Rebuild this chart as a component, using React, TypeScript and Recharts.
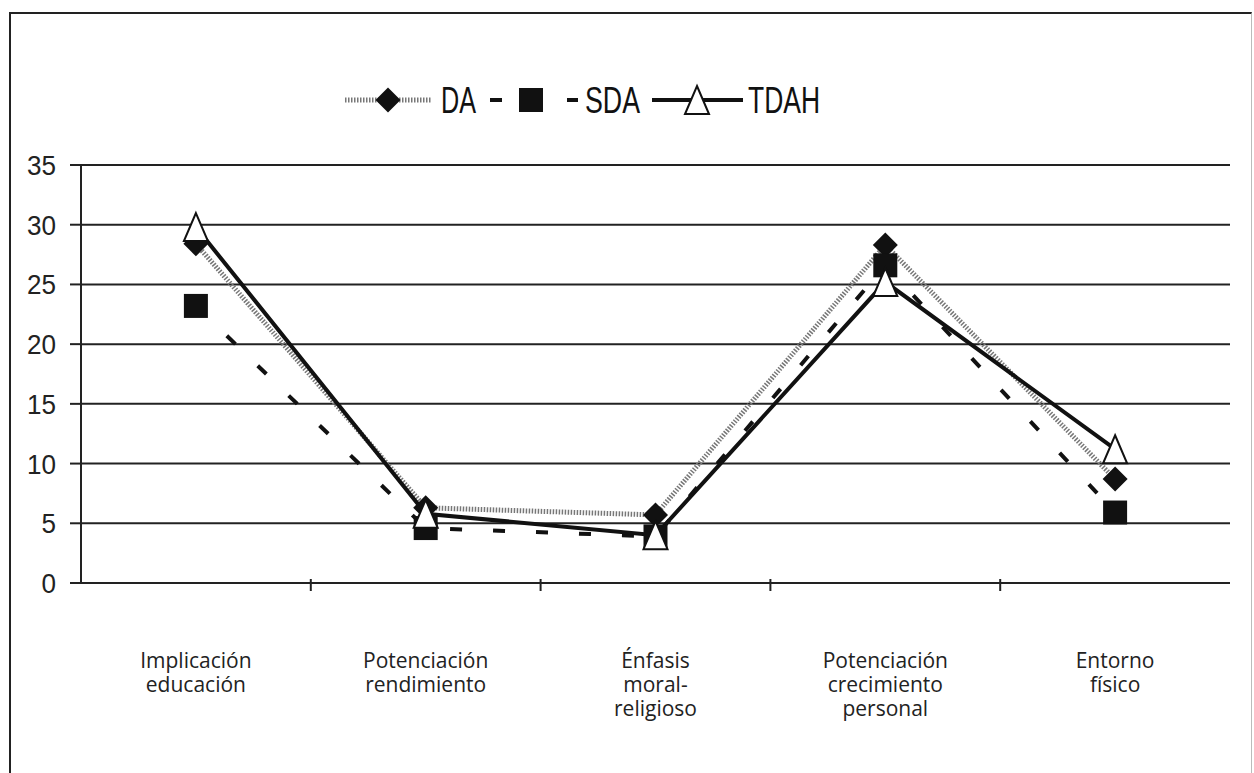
import React from "react";
import {
  CartesianGrid,
  Line,
  LineChart,
  XAxis,
  YAxis,
} from "recharts";

const categories = [
  "Implicación\neducación",
  "Potenciación\nrendimiento",
  "Énfasis\nmoral-\nreligioso",
  "Potenciación\ncrecimiento\npersonal",
  "Entorno\nfísico",
];
const da = [28.4, 6.3, 5.7, 28.3, 8.7];
const sda = [23.2, 4.6, 3.9, 26.6, 5.9];
const tdah = [29.8, 5.8, 4.0, 25.2, 11.2];
const yTicks = [0, 5, 10, 15, 20, 25, 30, 35];

const data = categories.map((c, i) => ({
  cat: c,
  DA: da[i],
  SDA: sda[i],
  TDAH: tdah[i],
}));

const NARROW = '"Liberation Sans", Arial, sans-serif';

const Diamond = ({ cx, cy }: any) =>
  cx == null ? null : (
    <polygon
      points={`${cx},${cy - 12.5} ${cx + 12.5},${cy} ${cx},${cy + 12.5} ${cx - 12.5},${cy}`}
      fill="#111"
    />
  );

const Square = ({ cx, cy }: any) =>
  cx == null ? null : <rect x={cx - 12} y={cy - 12} width={24} height={24} fill="#111" />;

const Triangle = ({ cx, cy }: any) =>
  cx == null ? null : (
    <polygon
      points={`${cx},${cy - 14} ${cx + 12},${cy + 14} ${cx - 12},${cy + 14}`}
      fill="#fff"
      stroke="#111"
      strokeWidth={2}
    />
  );

const XTick = ({ x, y, payload, index }: any) => {
  const lines = String(payload.value).split("\n");
  const off = payload.offset || 0;
  return (
    <g>
      {index < categories.length - 1 && (
        <line x1={x + off} x2={x + off} y1={y - 12} y2={y} stroke="#222" strokeWidth={2} />
      )}
      <text
        x={x}
        y={y + 77}
        textAnchor="middle"
        fontFamily='"Open Sans", sans-serif'
        fontSize={21}
        fill="#222"
      >
        {lines.map((l, i) => (
          <tspan key={i} x={x} dy={i === 0 ? 0 : 24}>
            {l}
          </tspan>
        ))}
      </text>
    </g>
  );
};

const YTick = ({ x, y, payload }: any) => (
  <text
    x={x}
    y={y + 10}
    textAnchor="end"
    fontFamily={NARROW}
    fontSize={28}
    fill="#222"
    textLength={String(payload.value).length * 14.5}
    lengthAdjust="spacingAndGlyphs"
  >
    {payload.value}
  </text>
);

const LegendBox = () => (
  <svg
    width={520}
    height={50}
    style={{ position: "absolute", left: 330, top: 75, overflow: "visible" }}
  >
    <g transform="translate(15,25)">
      <line x1={0} x2={87} y1={0} y2={0} stroke="#777" strokeWidth={5} strokeDasharray="1.5 1.5" />
      <Diamond cx={43} cy={0} />
      <text x={96} y={13} fontFamily={NARROW} fontSize={37} fill="#111" textLength={35} lengthAdjust="spacingAndGlyphs">DA</text>
      <line x1={145} x2={157} y1={0} y2={0} stroke="#111" strokeWidth={4} />
      <Square cx={186} cy={0} />
      <line x1={222} x2={233} y1={0} y2={0} stroke="#111" strokeWidth={4} />
      <text x={240} y={13} fontFamily={NARROW} fontSize={37} fill="#111" textLength={55} lengthAdjust="spacingAndGlyphs">SDA</text>
      <line x1={307} x2={398} y1={0} y2={0} stroke="#111" strokeWidth={4} />
      <Triangle cx={352} cy={0} />
      <text x={403} y={13} fontFamily={NARROW} fontSize={37} fill="#111" textLength={72} lengthAdjust="spacingAndGlyphs">TDAH</text>
    </g>
  </svg>
);

export default function App() {
  return (
    <div style={{ position: "absolute", left: 0, top: 0, width: 1254, height: 773, background: "#fff" }}>
      <div
        style={{
          position: "absolute",
          left: 9,
          top: 12,
          width: 1243,
          height: 770,
          borderTop: "2px solid #222",
          borderLeft: "2px solid #222",
          borderRight: "1px solid #bbb",
          boxSizing: "border-box",
        }}
      />
      <LegendBox />
      <LineChart
        width={1254}
        height={773}
        data={data}
        margin={{ top: 165, right: 24, bottom: 30, left: 0 }}
        style={{ position: "absolute", left: 0, top: 0 }}
      >
        <CartesianGrid vertical={false} stroke="#222" strokeWidth={2} yAxisId="left" />
        <XAxis
          dataKey="cat"
          scale="band"
          height={160}
          axisLine={{ stroke: "#222", strokeWidth: 2 }}
          tickLine={false}
          tick={<XTick />}
          interval={0}
        />
        <YAxis
          yAxisId="left"
          width={81}
          domain={[0, 35]}
          ticks={yTicks}
          axisLine={{ stroke: "#222", strokeWidth: 2 }}
          tickLine={{ stroke: "#222", strokeWidth: 2 }}
          tickSize={11}
          tickMargin={14}
          tick={<YTick />}
        />
        <YAxis
          yAxisId="right"
          orientation="right"
          width={0}
          tick={false}
          tickLine={false}
          axisLine={{ stroke: "#222", strokeWidth: 2 }}
        />
        <Line
          yAxisId="left"
          dataKey="DA"
          stroke="#777"
          strokeWidth={5}
          strokeDasharray="1.5 1.5"
          dot={<Diamond />}
          isAnimationActive={false}
        />
        <Line
          yAxisId="left"
          dataKey="SDA"
          stroke="#111"
          strokeWidth={4}
          strokeDasharray="12 31"
          dot={<Square />}
          isAnimationActive={false}
        />
        <Line
          yAxisId="left"
          dataKey="TDAH"
          stroke="#111"
          strokeWidth={4}
          dot={<Triangle />}
          isAnimationActive={false}
        />
      </LineChart>
    </div>
  );
}
